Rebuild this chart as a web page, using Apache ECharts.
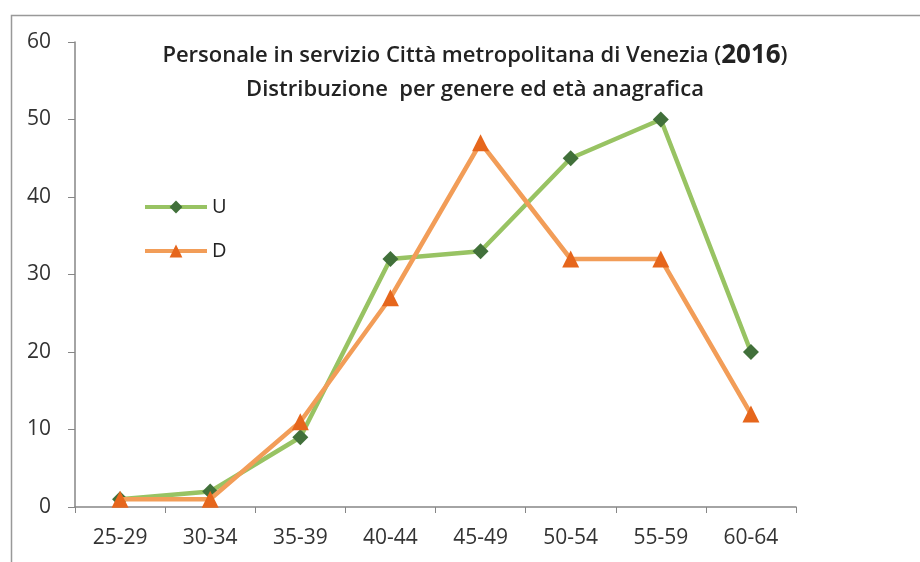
<!DOCTYPE html>
<html>
<head>
<meta charset="utf-8">
<script src="https://cdn.jsdelivr.net/npm/echarts@6/dist/echarts.min.js"></script>
<style>
html, body { margin: 0; padding: 0; background: #fff; }
#main { width: 920px; height: 562px; }
</style>
</head>
<body>
<div id="main"></div>
<script>
var categories = ['25-29', '30-34', '35-39', '40-44', '45-49', '50-54', '55-59', '60-64'];
var uomini = [1, 2, 9, 32, 33, 45, 50, 20];
var donne = [1, 1, 11, 27, 47, 32, 32, 12];

var dom = document.getElementById('main');
var myChart = echarts.init(dom);
var option = {
    backgroundColor: '#fff',
    animation: false,
    title: {
        text: '{a|Personale in servizio Città metropolitana di Venezia (}{b|2016}{a|)}\n{a|Distribuzione  per genere ed età anagrafica}',
        left: 470,
        top: 34,
        textAlign: 'center',
        textStyle: {
            fontFamily: 'Open Sans',
            fontSize: 22,
            fontWeight: 600,
            color: '#222',
            lineHeight: 34,
            rich: {
                a: { fontFamily: 'Open Sans', fontSize: 22, fontWeight: 600, color: '#222', lineHeight: 34 },
                b: { fontFamily: 'Open Sans', fontSize: 26, fontWeight: 'bold', color: '#222', lineHeight: 34 }
            }
        }
    },
    graphic: [{
        type: 'rect',
        shape: { x: 11.5, y: 15.5, width: 940, height: 600 },
        style: { fill: 'none', stroke: '#999', lineWidth: 1.5 },
        silent: true
    }],
    legend: {
        orient: 'vertical',
        left: 138,
        top: 192,
        itemWidth: 62,
        itemHeight: 16,
        itemGap: 24,
        lineStyle: { width: 4 },
        textStyle: { fontFamily: 'Open Sans', fontSize: 20, color: '#222' },
        data: ['U', 'D']
    },
    grid: {
        left: 75,
        right: 124,
        top: 42,
        bottom: 55,
        containLabel: false
    },
    xAxis: {
        type: 'category',
        data: categories,
        boundaryGap: true,
        axisLine: { lineStyle: { color: '#868686', width: 1.5 } },
        axisTick: { show: true, inside: false, length: 6, alignWithLabel: false, lineStyle: { color: '#868686' } },
        axisLabel: { fontFamily: 'Open Sans', fontSize: 21, color: '#333', margin: 21 },
        splitLine: { show: false }
    },
    yAxis: {
        type: 'value',
        min: 0,
        max: 60,
        interval: 10,
        axisLine: { show: true, lineStyle: { color: '#868686', width: 1.5 } },
        axisTick: { show: true, length: 7, lineStyle: { color: '#868686' } },
        axisLabel: { fontFamily: 'Open Sans', fontSize: 21, color: '#333', margin: 24 },
        splitLine: { show: false }
    },
    series: [
        {
            name: 'U',
            type: 'line',
            data: uomini,
            symbol: 'diamond',
            symbolSize: 16,
            lineStyle: { color: '#98c363', width: 4.5 },
            itemStyle: { color: '#41703a', borderWidth: 0 },
            z: 2
        },
        {
            name: 'D',
            type: 'line',
            data: donne,
            symbol: 'triangle',
            symbolSize: 17,
            lineStyle: { color: '#f29d58', width: 4.5 },
            itemStyle: { color: '#e6661c', borderWidth: 0 },
            z: 3
        }
    ]
};
if (option && typeof option === 'object') {
    myChart.setOption(option, true);
}
</script>
</body>
</html>
